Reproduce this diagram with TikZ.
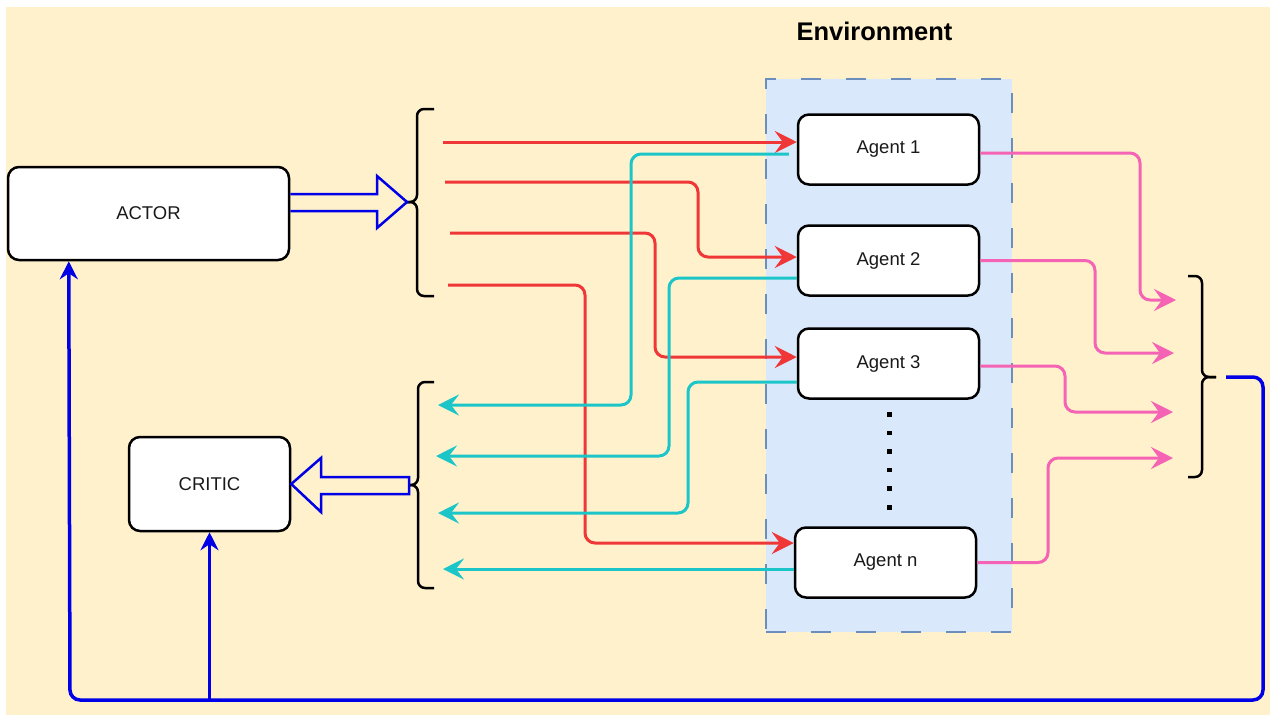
\documentclass[tikz,border=0pt]{standalone}
\usepackage{fontspec}
\setmainfont{Liberation Sans}
\usetikzlibrary{arrows.meta,calc}
\definecolor{bgc}{RGB}{255,241,204}
\definecolor{envfill}{RGB}{218,232,252}
\definecolor{envline}{RGB}{108,142,191}
\definecolor{redc}{RGB}{240,55,55}
\definecolor{tealc}{RGB}{28,198,200}
\definecolor{pinkc}{RGB}{245,100,180}
\definecolor{bluec}{RGB}{0,0,230}
\definecolor{txt}{RGB}{25,25,25}
\tikzset{
  box/.style={draw=black, fill=white, line width=2.5pt, rounded corners=11pt, font=\fontsize{18.5}{21}\selectfont, text=txt, inner sep=0pt},
  agent/.style={box, minimum width=181pt, minimum height=70pt},
  envbox/.style={draw=envline, fill=envfill, line width=2pt, dash pattern=on 20pt off 25pt},
  redarr/.style={draw=redc, line width=3pt, rounded corners=10pt, -{Stealth[length=22pt,width=22pt,inset=8pt]}},
  tealarr/.style={draw=tealc, line width=3pt, rounded corners=10pt, -{Stealth[length=21pt,width=21pt,inset=8pt]}},
  pinkarr/.style={draw=pinkc, line width=3pt, rounded corners=10pt, -{Stealth[length=22pt,width=22pt,inset=8pt]}},
  bluearr/.style={draw=bluec, line width=3.5pt, rounded corners=10pt, -{Stealth[length=18pt,width=18pt,inset=6pt]}},
  bracestyle/.style={draw=black, line width=2.5pt, rounded corners=7pt},
  hollow/.style={draw=bluec, line width=2.5pt, line join=miter},
}
\begin{document}
\begin{tikzpicture}[x=1pt,y=-1pt]
\useasboundingbox (0,0) rectangle (1270,716);
\fill[white] (0,0) rectangle (1270,716);
\fill[bgc] (6,7) rectangle (1270,715);

% environment
\node[envbox, minimum width=246pt, minimum height=553pt, inner sep=0pt] (env) at (889,355.5) {};
\node[font=\fontsize{25.5}{28}\selectfont\bfseries, text=black] (envtitle) at (874.5,31) {Environment};

% main boxes
\node[box, minimum width=281pt, minimum height=93pt] (actor) at (148.5,213.5) {ACTOR};
\node[box, minimum width=161pt, minimum height=94pt] (critic) at (209.5,484) {CRITIC};

% agents
\node[agent] (a1) at (888.5,149.5) {Agent 1};
\node[agent] (a2) at (888.5,260.5) {Agent 2};
\node[agent] (a3) at (888.5,363.5) {Agent 3};
\node[agent] (an) at (885.5,562.5) {Agent n};
\foreach \i in {0,...,5} \fill[black] (887,412+18.6*\i) rectangle +(4.5,4.5);

% braces
\coordinate (b1tip) at (407,202);
\draw[bracestyle] (434,109) -- (417,109) -- (417,202) -- (b1tip);
\draw[bracestyle] (434,296) -- (417,296) -- (417,202) -- (b1tip);
\coordinate (b2tip) at (409,485);
\draw[bracestyle] (434,382) -- (418,382) -- (418,485) -- (b2tip);
\draw[bracestyle] (434,588) -- (418,588) -- (418,485) -- (b2tip);
\coordinate (b3tip) at (1216,377);
\draw[bracestyle] (1188,276) -- (1202,276) -- (1202,377) -- (b3tip);
\draw[bracestyle] (1188,477) -- (1202,477) -- (1202,377) -- (b3tip);

% hollow block arrows
\draw[hollow] (actor.east |- 0,194) -- (377,194) -- (377,176) -- (b1tip) -- (377,228) -- (377,211) -- (actor.east |- 0,211);
\draw[hollow] (b2tip |- 0,477) -- (321,477) -- (321,458) -- (critic.east) -- (321,512) -- (321,494) -- (b2tip |- 0,494) -- cycle;

% red: actions to agents
\coordinate (r1) at (443,142);
\coordinate (r2) at (445,182);
\coordinate (r3) at (450,233);
\coordinate (r4) at (448,285);
\draw[redarr] (r1) -- ($(a1.west)+(0,-7.5)$);
\draw[redarr] (r2) -- (698,182) -- (698,257) -- ($(a2.west)+(0,-3.5)$);
\draw[redarr] (r3) -- (655,233) -- (655,357) -- ($(a3.west)+(0,-6.5)$);
\draw[redarr] (r4) -- (585,285) -- (585,543) -- ($(an.west)+(0,-19.5)$);

% teal: observations to critic brace
\coordinate (t1) at (438,405);
\coordinate (t2) at (436,456);
\coordinate (t3) at (438,513);
\coordinate (t4) at (443,569);
\draw[tealarr] ($(a1.west)+(-8,4.5)$) -- (631,154) -- (631,405) -- (t1);
\draw[tealarr] ($(a2.west)+(0,17.5)$) -- (669,278) -- (669,456) -- (t2);
\draw[tealarr] ($(a3.west)+(0,18.5)$) -- (688,382) -- (688,513) -- (t3);
\draw[tealarr] ($(an.west)+(0,6.5)$) -- (t4);

% pink: rewards to right brace
\coordinate (p1) at (1176,300);
\coordinate (p2) at (1174,353);
\coordinate (p3) at (1173,412);
\coordinate (p4) at (1173,458);
\draw[pinkarr] ($(a1.east)+(0,3.5)$) -- (1140,153) -- (1140,300) -- (p1);
\draw[pinkarr] (a2.east) -- (1095,260.5) -- (1095,353) -- (p2);
\draw[pinkarr] ($(a3.east)+(0,2.5)$) -- (1065,366) -- (1065,412) -- (p3);
\draw[pinkarr] (an.east) -- (1048,562.5) -- (1048,458) -- (p4);

% blue feedback
\coordinate (fb) at (1226,377);
\coordinate (cb) at (209.5,700);
\draw[bluearr] (fb) -- (1263,377) -- (1263,700) -- (70,700) -- ($(actor.south west)+(62,0)$);
\draw[bluearr, rounded corners=0pt] (cb) -- (critic.south);
\end{tikzpicture}
\end{document}
